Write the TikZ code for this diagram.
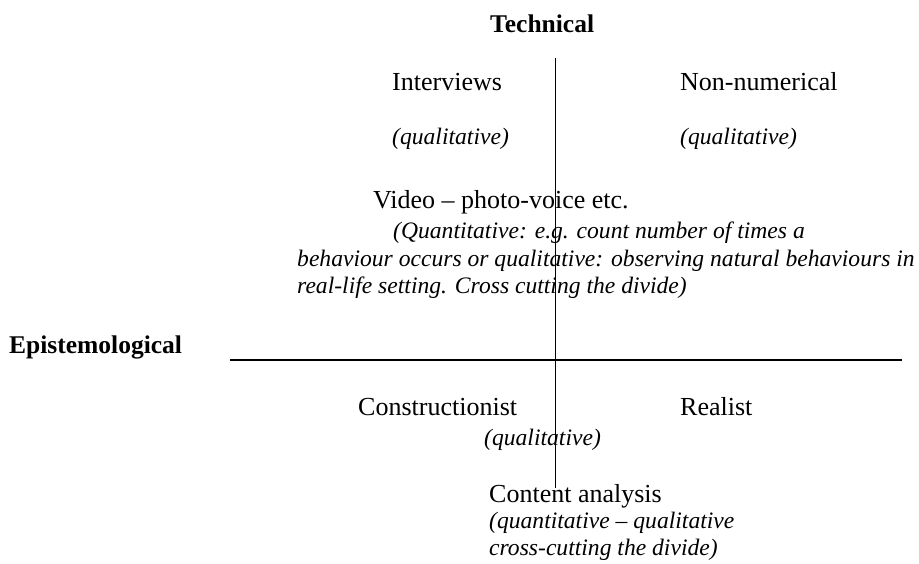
\documentclass[tikz,border=0pt]{standalone}
\usepackage{fontspec}
\setmainfont{Liberation Serif}
\begin{document}
\begin{tikzpicture}[x=1pt,y=-1pt,
  txt/.style={anchor=base west,inner sep=0pt,font=\fontsize{26}{28}\selectfont},
  ital/.style={txt,font=\fontsize{23.6}{27}\selectfont\itshape},
  head/.style={anchor=base west,inner sep=0pt,font=\fontsize{25.5}{28}\selectfont\bfseries},
  axis/.style={line width=1.5pt}]
\useasboundingbox (0,0) rectangle (919,563);
\node[head] (tech) at (490,32) {Technical};
\node[head] (epi) at (9,353) {Epistemological};
\coordinate (vt) at (555.5,58);
\coordinate (vb) at (555.5,488);
\coordinate (hl) at (230,360);
\coordinate (hr) at (902,360);
\draw[axis] (vt) -- (vb);
\draw[axis] (hl) -- (hr);
\node[txt] (int) at (392,90) {Interviews};
\node[txt] (nonnum) at (680,90) {Non-numerical};
\node[ital] (q1) at (392,144) {(qualitative)};
\node[ital] (q2) at (680,144) {(qualitative)};
\node[txt] (video) at (373,208) {Video -- photo-voice etc.};
\node[ital] (v1) at (393,238) {(Quantitative: e.g. count number of times a};
\node[ital] (v2) at (297,266) {behaviour occurs or qualitative: observing natural behaviours in};
\node[ital] (v3) at (297,293) {real-life setting. Cross cutting the divide)};
\node[txt] (cons) at (358,415) {Constructionist};
\node[txt] (real) at (680,415) {Realist};
\node[ital] (q3) at (484,445) {(qualitative)};
\node[txt] (ca) at (489,502) {Content analysis};
\node[ital] (c1) at (489,528) {(quantitative -- qualitative};
\node[ital] (c2) at (489,555) {cross-cutting the divide)};
\end{tikzpicture}
\end{document}
